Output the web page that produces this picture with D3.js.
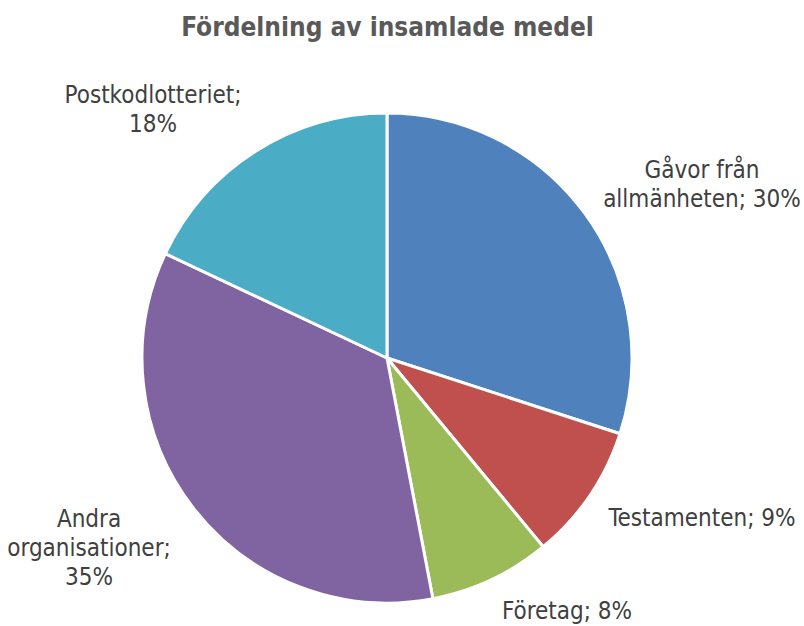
<!DOCTYPE html>
<html><head><meta charset="utf-8">
<script src="https://cdn.jsdelivr.net/npm/d3@7"></script>
<style>body{margin:0;background:#fff}svg{display:block}</style>
</head><body>
<svg id="c" width="804" height="626"></svg>
<script>
const title = "Fördelning av insamlade medel";
const categories = ["Gåvor från allmänheten", "Testamenten", "Företag", "Andra organisationer", "Postkodlotteriet"];
const values = [30, 9, 8, 35, 18];
const colors = ["#4F81BD", "#C0504D", "#9BBB59", "#8064A2", "#4BACC6"];
const labelLines = [
  ["Gåvor från", "allmänheten; 30%"],
  ["Testamenten; 9%"],
  ["Företag; 8%"],
  ["Andra", "organisationer;", "35%"],
  ["Postkodlotteriet;", "18%"]
];
// label anchor (centre x, first baseline) offsets relative to pie centre (layout)
const labelOffsets = [[315, -180], [315, 168], [180, 261], [-298, 169], [-234, -255]];

const svg = d3.select("#c");
const cx = 387, cy = 358, R = 245;
const font = "'DejaVu Sans Condensed', 'DejaVu Sans', sans-serif";

svg.append("text").attr("x", 387.5).attr("y", 36).attr("text-anchor", "middle")
  .attr("font-family", font).attr("font-weight", "bold").attr("font-size", 26)
  .attr("fill", "#595959").text(title);

const pie = d3.pie().sort(null).value(d => d)(values);
const arc = d3.arc().innerRadius(0).outerRadius(R);
const g = svg.append("g").attr("transform", `translate(${cx},${cy})`);
g.selectAll("path").data(pie).join("path")
  .attr("d", arc).attr("fill", (d, i) => colors[i])
  .attr("stroke", "#fff").attr("stroke-width", 3).attr("stroke-linejoin", "round");

const lh = 29;
pie.forEach((d, i) => {
  const lines = labelLines[i];
  const [ox, oy] = labelOffsets[i];
  const t = g.append("text").attr("text-anchor", "middle")
    .attr("font-family", font).attr("font-size", 24).attr("fill", "#404040");
  lines.forEach((ln, k) => {
    t.append("tspan").attr("x", ox).attr("y", oy + k * lh).text(ln);
  });
});
</script>
</body></html>
